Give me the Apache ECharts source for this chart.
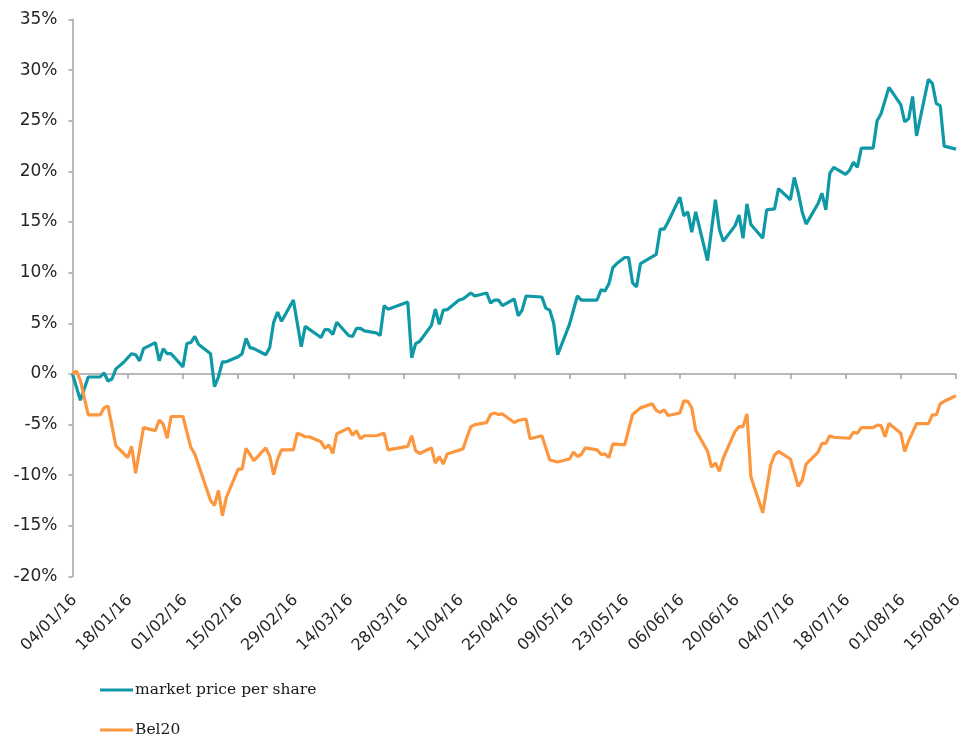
<!DOCTYPE html>
<html><head><meta charset="utf-8">
<script src="https://cdn.jsdelivr.net/npm/echarts@6/dist/echarts.min.js"></script>
<style>html,body{margin:0;padding:0;background:#fff}#c{width:960px;height:738px}</style>
</head><body><div id="c"></div>
<script>
const tickLabels = ['04/01/16','18/01/16','01/02/16','15/02/16','29/02/16','14/03/16','28/03/16','11/04/16','25/04/16','09/05/16','23/05/16','06/06/16','20/06/16','04/07/16','18/07/16','01/08/16','15/08/16'];
const yTicks = [-20,-15,-10,-5,0,5,10,15,20,25,30,35];

const priceDates = ['2016-01-04','2016-01-06','2016-01-08','2016-01-11','2016-01-12','2016-01-13','2016-01-14','2016-01-15','2016-01-17','2016-01-18','2016-01-19','2016-01-20','2016-01-21','2016-01-22','2016-01-25','2016-01-26','2016-01-27','2016-01-28','2016-01-29',
'2016-02-01','2016-02-02','2016-02-03','2016-02-04','2016-02-05','2016-02-08','2016-02-09','2016-02-10','2016-02-11','2016-02-12','2016-02-15','2016-02-16','2016-02-17','2016-02-18','2016-02-19','2016-02-22','2016-02-23','2016-02-24','2016-02-25','2016-02-26','2016-02-29',
'2016-03-02','2016-03-03','2016-03-07','2016-03-08','2016-03-09','2016-03-10','2016-03-11','2016-03-14','2016-03-15','2016-03-16','2016-03-17','2016-03-18','2016-03-21','2016-03-22','2016-03-23','2016-03-24','2016-03-29','2016-03-30','2016-03-31',
'2016-04-01','2016-04-04','2016-04-05','2016-04-06','2016-04-07','2016-04-08','2016-04-11','2016-04-12','2016-04-14','2016-04-15','2016-04-18','2016-04-19','2016-04-20','2016-04-21','2016-04-22','2016-04-25','2016-04-26','2016-04-27','2016-04-28',
'2016-05-02','2016-05-03','2016-05-04','2016-05-05','2016-05-06','2016-05-09','2016-05-11','2016-05-12','2016-05-13','2016-05-16','2016-05-17','2016-05-18','2016-05-19','2016-05-20','2016-05-21','2016-05-23','2016-05-24','2016-05-25','2016-05-26','2016-05-27','2016-05-31',
'2016-06-01','2016-06-02','2016-06-03','2016-06-06','2016-06-07','2016-06-08','2016-06-09','2016-06-10','2016-06-13','2016-06-15','2016-06-16','2016-06-17','2016-06-20','2016-06-21','2016-06-22','2016-06-23','2016-06-24','2016-06-27','2016-06-28','2016-06-30',
'2016-07-01','2016-07-04','2016-07-05','2016-07-06','2016-07-07','2016-07-08','2016-07-11','2016-07-12','2016-07-13','2016-07-14','2016-07-15','2016-07-18','2016-07-19','2016-07-20','2016-07-21','2016-07-22','2016-07-25','2016-07-26','2016-07-27','2016-07-29',
'2016-08-01','2016-08-02','2016-08-03','2016-08-04','2016-08-05','2016-08-08','2016-08-09','2016-08-10','2016-08-11','2016-08-12','2016-08-15'];
const priceValues = [0.0,-2.6,-0.3,-0.3,0.1,-0.7,-0.5,0.5,1.15,1.6,2.0,1.9,1.3,2.5,3.1,1.3,2.5,2.0,2.0,
0.7,3.0,3.1,3.7,2.9,2.0,-1.25,-0.3,1.2,1.2,1.7,2.0,3.5,2.6,2.5,1.9,2.6,5.1,6.1,5.2,7.3,
2.7,4.7,3.6,4.4,4.35,3.9,5.1,3.8,3.7,4.5,4.5,4.25,4.05,3.8,6.75,6.4,7.1,1.6,3.0,
3.2,4.8,6.4,4.9,6.3,6.35,7.3,7.4,8.0,7.7,8.0,7.0,7.3,7.3,6.75,7.4,5.75,6.3,7.7,
7.6,6.5,6.3,5.0,1.9,4.9,7.7,7.3,7.3,7.3,8.3,8.2,8.9,10.5,10.9,11.5,11.5,9.0,8.6,10.9,11.8,
14.3,14.3,15.0,17.45,15.6,16.0,14.0,16.0,11.2,17.2,14.3,13.1,14.65,15.7,13.4,16.8,14.75,13.4,16.2,16.3,
18.3,17.2,19.4,17.9,16.0,14.8,16.8,17.85,16.2,19.8,20.4,19.7,20.1,20.9,20.4,22.3,22.3,25.0,25.7,28.3,
26.6,24.9,25.2,27.4,23.5,29.1,28.7,26.7,26.5,22.5,22.2];

const bel20Dates = ['2016-01-04','2016-01-05','2016-01-06','2016-01-08','2016-01-11','2016-01-12','2016-01-13','2016-01-15','2016-01-18','2016-01-19','2016-01-20','2016-01-22','2016-01-25','2016-01-26','2016-01-27','2016-01-28','2016-01-29',
'2016-02-01','2016-02-03','2016-02-04','2016-02-08','2016-02-09','2016-02-10','2016-02-11','2016-02-12','2016-02-15','2016-02-16','2016-02-17','2016-02-19','2016-02-22','2016-02-23','2016-02-24','2016-02-25','2016-02-26','2016-02-29',
'2016-03-01','2016-03-02','2016-03-03','2016-03-04','2016-03-07','2016-03-08','2016-03-09','2016-03-10','2016-03-11','2016-03-14','2016-03-15','2016-03-16','2016-03-17','2016-03-18','2016-03-21','2016-03-23','2016-03-24','2016-03-29','2016-03-30','2016-03-31',
'2016-04-01','2016-04-04','2016-04-05','2016-04-06','2016-04-07','2016-04-08','2016-04-12','2016-04-13','2016-04-14','2016-04-15','2016-04-18','2016-04-19','2016-04-20','2016-04-21','2016-04-22','2016-04-25','2016-04-26','2016-04-28','2016-04-29',
'2016-05-02','2016-05-04','2016-05-06','2016-05-09','2016-05-10','2016-05-11','2016-05-12','2016-05-13','2016-05-16','2016-05-17','2016-05-18','2016-05-19','2016-05-20','2016-05-23','2016-05-25','2016-05-27','2016-05-30','2016-05-31',
'2016-06-01','2016-06-02','2016-06-03','2016-06-06','2016-06-07','2016-06-08','2016-06-09','2016-06-10','2016-06-13','2016-06-14','2016-06-15','2016-06-16','2016-06-17','2016-06-20','2016-06-21','2016-06-22','2016-06-23','2016-06-24','2016-06-27','2016-06-29','2016-06-30',
'2016-07-01','2016-07-04','2016-07-06','2016-07-07','2016-07-08','2016-07-11','2016-07-12','2016-07-13','2016-07-14','2016-07-15','2016-07-19','2016-07-20','2016-07-21','2016-07-22','2016-07-25','2016-07-26','2016-07-27','2016-07-28','2016-07-29',
'2016-08-01','2016-08-02','2016-08-03','2016-08-05','2016-08-08','2016-08-09','2016-08-10','2016-08-11','2016-08-12','2016-08-15'];
const bel20Values = [0.0,0.3,-0.65,-4.05,-4.05,-3.35,-3.15,-7.1,-8.25,-7.15,-9.8,-5.3,-5.6,-4.55,-4.95,-6.35,-4.2,
-4.2,-7.25,-7.9,-12.5,-13.0,-11.5,-14.0,-12.2,-9.4,-9.4,-7.35,-8.55,-7.3,-8.1,-9.95,-8.4,-7.5,-7.5,
-5.85,-6.0,-6.2,-6.2,-6.7,-7.35,-7.0,-7.85,-5.9,-5.35,-6.05,-5.6,-6.4,-6.1,-6.1,-5.85,-7.5,-7.15,-6.1,-7.6,
-7.85,-7.3,-8.8,-8.15,-8.9,-7.9,-7.4,-6.25,-5.2,-5.0,-4.8,-4.0,-3.85,-4.0,-3.95,-4.8,-4.6,-4.45,-6.4,
-6.1,-8.5,-8.7,-8.4,-7.7,-8.15,-7.95,-7.3,-7.5,-7.95,-7.9,-8.25,-6.9,-7.0,-4.0,-3.35,-2.95,-3.6,
-3.8,-3.55,-4.1,-3.85,-2.65,-2.7,-3.35,-5.55,-7.6,-9.2,-8.8,-9.6,-8.3,-5.65,-5.2,-5.2,-3.95,-10.15,-13.7,-9.0,-8.0,
-7.65,-8.4,-11.1,-10.5,-8.9,-7.75,-6.85,-6.85,-6.1,-6.25,-6.35,-5.75,-5.85,-5.3,-5.3,-5.05,-5.1,-6.2,-4.9,
-5.85,-7.65,-6.6,-4.9,-4.9,-4.05,-4.05,-2.95,-2.7,-2.15];

const seriesNames = ['market price per share','Bel20'];
const seriesColors = ['#0f98a6','#fd973f'];

const DAY = 86400000;
const T0 = Date.UTC(2016,0,4);
function dayOf(s){ const p = s.split('-').map(Number); return (Date.UTC(p[0],p[1]-1,p[2]) - T0)/DAY; }
function pairs(dates, vals){ return dates.map((d,i)=>[dayOf(d), vals[i]]); }

const axisColor = '#a3a3a3';
const yLabelFont = {fontFamily:'DejaVu Sans', fontSize:17, color:'#262626'};
const xLabelFont = {fontFamily:'DejaVu Sans', fontSize:16, color:'#262626', lineHeight:6};
const legendText = {fontFamily:'DejaVu Serif', fontSize:15.5, color:'#1a1a1a', padding:[0,0,0,-3]};
function legendAt(top, name){
  return {orient:'vertical', left:100, top:top, padding:0, icon:'rect', itemWidth:33, itemHeight:3,
    textStyle:legendText, data:[name]};
}
const chart = echarts.init(document.getElementById('c'));
chart.setOption({
  animation:false,
  backgroundColor:'#fff',
  grid:{left:72.5, right:4, top:19.5, bottom:161.5, containLabel:false, outerBoundsMode:'none'},
  legend:[legendAt(682, seriesNames[0]), legendAt(722, seriesNames[1])],
  xAxis:[{
    type:'value', min:0, max:(tickLabels.length-1)*14, interval:14, position:'bottom',
    axisLine:{show:false, onZero:false}, axisTick:{show:false}, splitLine:{show:false},
    axisLabel:Object.assign({rotate:45, margin:19, align:'right', verticalAlign:'top',
      formatter:v=>tickLabels[Math.round(v/14)]||''}, xLabelFont)
  },{
    type:'value', min:0, max:(tickLabels.length-1)*14, interval:14, position:'bottom',
    axisLine:{show:true, onZero:true, lineStyle:{color:axisColor, width:1.5}},
    axisTick:{show:true, length:5, lineStyle:{color:axisColor, width:1.5}},
    axisLabel:{show:false}, splitLine:{show:false}
  }],
  yAxis:{
    type:'value', min:yTicks[0], max:yTicks[yTicks.length-1], interval:5,
    axisLine:{show:true, lineStyle:{color:axisColor, width:1.5}},
    axisTick:{show:true, length:4, lineStyle:{color:axisColor, width:1.5}},
    splitLine:{show:false},
    axisLabel:Object.assign({margin:15, formatter:'{value}%'}, yLabelFont)
  },
  series:[
    {name:seriesNames[0], type:'line', xAxisIndex:0, data:pairs(priceDates, priceValues),
     showSymbol:false, symbol:'none', lineStyle:{width:3.2, color:seriesColors[0]}, itemStyle:{color:seriesColors[0]}},
    {name:seriesNames[1], type:'line', xAxisIndex:0, data:pairs(bel20Dates, bel20Values),
     showSymbol:false, symbol:'none', lineStyle:{width:3.2, color:seriesColors[1]}, itemStyle:{color:seriesColors[1]}}
  ]
});
</script></body></html>
